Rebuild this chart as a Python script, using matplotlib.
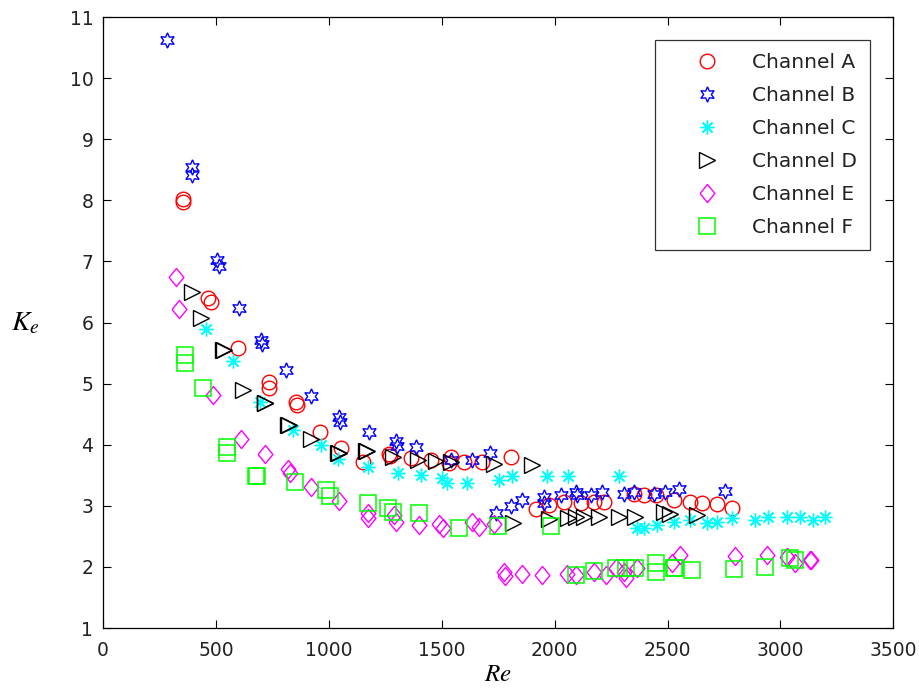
import matplotlib.pyplot as plt

# Re / Ke readings for the six channels
re_a = [353, 356, 465, 480, 598, 735, 735, 856, 860, 959, 1055, 1150, 1265, 1270, 1364,
        1452, 1533, 1541, 1600, 1680, 1806, 1916, 1975, 2042, 2115, 2174, 2218, 2351,
        2395, 2447, 2528, 2601, 2653, 2719, 2785]
ke_a = [8.02, 7.97, 6.40, 6.33, 5.58, 5.03, 4.92, 4.70, 4.65, 4.21, 3.94, 3.72, 3.85, 3.81, 3.78,
        3.75, 3.70, 3.80, 3.71, 3.71, 3.80, 2.94, 3.01, 3.07, 3.04, 3.07, 3.07, 3.20,
        3.18, 3.18, 3.10, 3.07, 3.04, 3.03, 2.97]

re_b = [283, 392, 392, 505, 515, 602, 701, 705, 812, 922, 1047, 1050, 1180, 1298, 1300,
        1386, 1541, 1636, 1715, 1739, 1806, 1857, 1953, 1953, 2027, 2093, 2100, 2159,
        2211, 2307, 2351, 2439, 2491, 2550, 2756]
ke_b = [10.62, 8.55, 8.41, 7.03, 6.93, 6.23, 5.72, 5.64, 5.22, 4.80, 4.45, 4.37, 4.20, 4.06, 3.98,
        3.97, 3.75, 3.75, 3.87, 2.88, 2.99, 3.10, 3.15, 3.04, 3.18, 3.22, 3.17, 3.18,
        3.23, 3.20, 3.23, 3.20, 3.23, 3.28, 3.24]

re_c = [458, 576, 694, 841, 966, 1040, 1172, 1305, 1408, 1500, 1525, 1614, 1754, 1810,
        1965, 2060, 2285, 2366, 2395, 2454, 2528, 2601, 2675, 2719, 2785, 2888, 2947,
        3029, 3087, 3146, 3198]
ke_c = [5.89, 5.37, 4.70, 4.24, 4.00, 3.77, 3.64, 3.54, 3.51, 3.46, 3.38, 3.37, 3.43, 3.49,
        3.49, 3.48, 3.48, 2.63, 2.63, 2.69, 2.74, 2.77, 2.72, 2.74, 2.80, 2.77, 2.82,
        2.82, 2.82, 2.77, 2.82]

re_d = [392, 436, 532, 536, 620, 716, 719, 819, 822, 922, 1040, 1043, 1165, 1168, 1283,
        1393, 1474, 1540, 1732, 1901, 1817, 1975, 2060, 2093, 2130, 2196, 2285, 2358,
        2483, 2513, 2631]
ke_d = [6.50, 6.07, 5.55, 5.55, 4.90, 4.68, 4.68, 4.32, 4.32, 4.10, 3.86, 3.86, 3.89, 3.89, 3.80,
        3.75, 3.74, 3.72, 3.68, 3.66, 2.72, 2.78, 2.80, 2.82, 2.82, 2.81, 2.81, 2.81,
        2.90, 2.86, 2.85]

re_e = [323, 337, 487, 613, 716, 819, 826, 922, 1047, 1172, 1172, 1290, 1297, 1401, 1489,
        1504, 1636, 1666, 1732, 1776, 1780, 1857, 1946, 2056, 2093, 2174, 2226, 2270,
        2307, 2314, 2366, 2520, 2557, 2800, 2940, 3029, 3065, 3131, 3134]
ke_e = [6.74, 6.22, 4.82, 4.10, 3.84, 3.61, 3.53, 3.30, 3.08, 2.89, 2.80, 2.85, 2.74, 2.69, 2.70,
        2.63, 2.74, 2.66, 2.70, 1.91, 1.85, 1.89, 1.87, 1.89, 1.87, 1.92, 1.87, 1.98,
        1.92, 1.82, 1.98, 2.06, 2.19, 2.18, 2.19, 2.17, 2.07, 2.12, 2.12]

re_f = [362, 362, 443, 547, 547, 679, 682, 848, 988, 1003, 1172, 1261, 1283, 1401, 1578,
        1747, 1983, 2093, 2174, 2270, 2314, 2358, 2447, 2447, 2528, 2531, 2609, 2793,
        2930, 3043, 3065]
ke_f = [5.47, 5.33, 4.93, 3.97, 3.87, 3.48, 3.48, 3.39, 3.26, 3.16, 3.04, 2.96, 2.90, 2.88, 2.63,
        2.67, 2.67, 1.87, 1.94, 1.99, 1.99, 1.99, 2.06, 1.92, 1.98, 1.98, 1.95, 1.97,
        2.00, 2.14, 2.11]

plt.rcParams['font.family'] = ['DejaVu Sans']
plt.rcParams['mathtext.fontset'] = 'stix'

fig = plt.figure(figsize=(9.2, 6.94), dpi=100)
ax = fig.add_axes([0.112, 0.0951, 0.859, 0.8804])

# MATLAB style diamond, a bit wider than matplotlib's thin one
diamond = [(-0.82, 0), (0, 1), (0.82, 0), (0, -1), (-0.82, 0)]

ax.plot(re_a, ke_a, 'o', ls='none', ms=10.5, mfc='none', mec='red', mew=1.0, label='Channel A')
ax.plot(re_b, ke_b, marker=(6, 1, 0), ls='none', ms=11, mfc='none', mec='blue', mew=1.0, label='Channel B')
ax.plot(re_c, ke_c, marker=(8, 2, 0), ls='none', ms=10, mec='cyan', mew=1.0, label='Channel C')
ax.plot(re_d, ke_d, '>', ls='none', ms=11, mfc='none', mec='black', mew=1.0, label='Channel D')
ax.plot(re_e, ke_e, marker=diamond, ls='none', ms=13, mfc='none', mec='magenta', mew=1.0, label='Channel E')
ax.plot(re_f, ke_f, 's', ls='none', ms=11, mfc='none', mec='lime', mew=1.1, label='Channel F')

ax.set_xlim(0, 3500)
ax.set_ylim(1, 11)
ax.set_xticks(range(0, 3501, 500))
ax.set_yticks(range(1, 12))
ax.tick_params(direction='in', length=5.5, width=0.8, top=True, right=True,
               labelsize=13.5, labelcolor='#222222')
ax.tick_params(axis='x', pad=9)
ax.tick_params(axis='y', pad=7)
for s in ax.spines.values():
    s.set_linewidth(0.9)

ax.set_xlabel('$Re$', fontsize=18, labelpad=2)
fig.text(0.012, 1 - 322 / 694, '$K_e$', fontsize=20, va='center', ha='left')

leg = ax.legend(loc='upper right', bbox_to_anchor=(0.971, 0.962), borderaxespad=0,
                fancybox=False, edgecolor='black', fontsize=14.5, numpoints=1,
                handlelength=3.9, handletextpad=0.3, borderpad=0.65, labelspacing=0.69)
leg.get_frame().set_linewidth(0.9)
for t in leg.get_texts():
    t.set_color('#222222')

fig.savefig('out.png', dpi=100)
